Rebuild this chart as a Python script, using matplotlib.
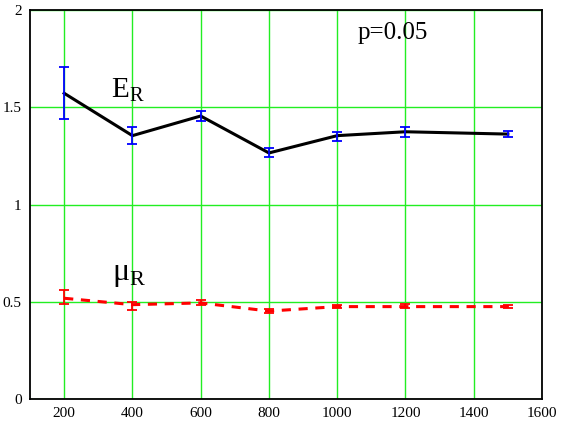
import matplotlib.pyplot as plt

plt.rcParams['font.family'] = ['Liberation Serif', 'DejaVu Serif']

# sample sizes
n = [200, 400, 600, 800, 1000, 1200, 1500]

# E_R: mean and error bar ends
er = [1.572, 1.354, 1.455, 1.265, 1.354, 1.374, 1.362]
er_hi = [1.705, 1.398, 1.481, 1.289, 1.371, 1.398, 1.378]
er_lo = [1.440, 1.313, 1.429, 1.244, 1.326, 1.347, 1.347]

# mu_R: mean and error bar ends
mu = [0.518, 0.485, 0.494, 0.452, 0.475, 0.475, 0.475]
mu_hi = [0.560, 0.500, 0.509, 0.463, 0.482, 0.487, 0.481]
mu_lo = [0.487, 0.460, 0.483, 0.441, 0.469, 0.470, 0.469]

fig = plt.figure(figsize=(5.61, 4.28), dpi=100)
ax = fig.add_axes([30 / 561, 1 - 399 / 428, 512 / 561, 389 / 428])

ax.set_xlim(100, 1600)
ax.set_ylim(0, 2)
ax.set_xticks([200, 400, 600, 800, 1000, 1200, 1400, 1600])
ax.set_yticks([0, 0.5, 1, 1.5, 2])
ax.set_yticklabels(['0', '0.5', '1', '1.5', '2'])
ax.grid(True, color='#22ee22', linewidth=1.0)
ax.set_axisbelow(True)
ax.tick_params(length=0, labelsize=11, pad=6)
for s in ax.spines.values():
    s.set_linewidth(1.3)
    s.set_color('black')

ax.plot(n, er, color='black', linewidth=2.2)
ax.errorbar(n, er,
            yerr=[[e - l for e, l in zip(er, er_lo)], [h - e for e, h in zip(er, er_hi)]],
            fmt='none', ecolor='blue', elinewidth=1.3, capsize=3.5, capthick=1.3)

ax.plot(n, mu, color='red', linewidth=2.2, linestyle=(0, (3, 2.5)))
ax.errorbar(n, mu,
            yerr=[[m - l for m, l in zip(mu, mu_lo)], [h - m for m, h in zip(mu, mu_hi)]],
            fmt='none', ecolor='red', elinewidth=1.3, capsize=3.5, capthick=1.3)

ax.text(336, 1.554, r'E$_\mathregular{R}$', fontsize=21)
ax.text(339, 0.61, r'μ$_\mathregular{R}$', fontsize=23)
ax.text(1061, 1.85, 'p=0.05', fontsize=18)

fig.savefig('out.png', dpi=100)
